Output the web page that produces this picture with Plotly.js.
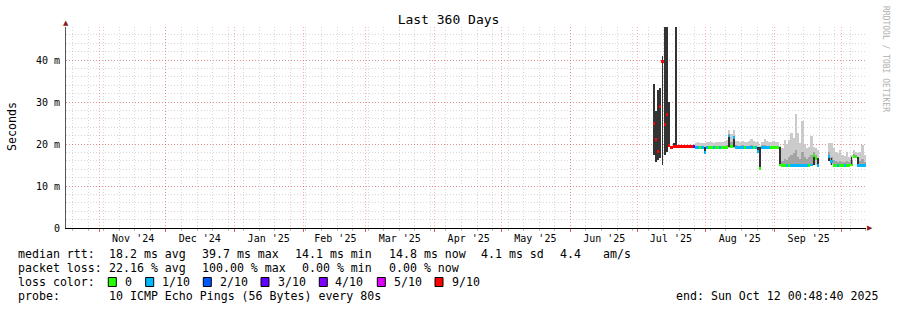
<!DOCTYPE html>
<html><head><meta charset="utf-8">
<script src="https://cdn.plot.ly/plotly-3.0.1.min.js"></script>
<style>html,body{margin:0;padding:0;background:#fff}#chart{width:897px;height:310px}</style>
</head><body><div id="chart"></div>
<script>
// ---- data (one entry per day, values in ms) ----
const dates = [
 '2025-07-08','2025-07-09','2025-07-10','2025-07-11','2025-07-12','2025-07-13','2025-07-14','2025-07-15','2025-07-16','2025-07-17','2025-07-18','2025-07-19','2025-07-20','2025-07-21','2025-07-22','2025-07-23','2025-07-24','2025-07-25','2025-07-26','2025-07-27','2025-07-28','2025-07-29','2025-07-30','2025-07-31',
 '2025-08-01','2025-08-02','2025-08-03','2025-08-04','2025-08-05','2025-08-06','2025-08-07','2025-08-08','2025-08-09','2025-08-10','2025-08-11','2025-08-12','2025-08-13','2025-08-14','2025-08-15','2025-08-16','2025-08-17','2025-08-18','2025-08-19','2025-08-20','2025-08-21','2025-08-22','2025-08-23','2025-08-24','2025-08-25','2025-08-26','2025-08-27','2025-08-28','2025-08-29','2025-08-30','2025-08-31',
 '2025-09-01','2025-09-02','2025-09-03','2025-09-04','2025-09-05','2025-09-06','2025-09-07','2025-09-08','2025-09-09','2025-09-10','2025-09-11','2025-09-12','2025-09-13','2025-09-14','2025-09-15','2025-09-16','2025-09-17','2025-09-18','2025-09-19','2025-09-20','2025-09-21','2025-09-22','2025-09-23','2025-09-24','2025-09-25','2025-09-26','2025-09-27','2025-09-28','2025-09-29','2025-09-30',
 '2025-10-01','2025-10-02','2025-10-03','2025-10-04','2025-10-05','2025-10-06','2025-10-07','2025-10-08','2025-10-09','2025-10-10','2025-10-11'];

const median = [
 24.8,21.0,18.2,29.0,39.7,24.6,27.0,19.6,19.2,19.3,19.4,19.4,19.3,19.4,19.4,19.4,19.5,19.4,19.3,19.1,19.1,19.1,19.1,18.0,
 19.1,19.1,19.1,19.1,19.1,19.1,19.1,19.1,19.1,19.2,21.9,19.3,21.5,19.2,19.1,19.1,19.1,19.1,19.1,19.1,19.1,19.1,19.1,18.3,14.1,19.2,19.2,19.2,19.2,19.2,19.2,
 19.2,19.2,15.0,14.9,14.9,14.9,14.9,14.9,14.9,14.9,14.9,14.9,14.9,14.9,14.9,14.9,15.0,17.2,16.6,14.9,null,null,null,null,17.0,15.8,14.9,14.9,14.9,14.9,
 14.9,14.9,14.9,14.9,15.0,17.0,16.9,14.9,14.8,14.8,14.8];

const lossCount = [
 9,9,9,9,9,9,9,9,9,9,9,9,9,9,9,9,9,9,3,1,1,0,1,1,
 1,0,0,1,0,0,1,0,0,0,1,0,1,1,1,1,1,0,1,1,1,0,1,1,0,1,1,1,1,0,0,
 0,0,0,0,0,1,0,1,1,1,1,1,1,1,1,0,1,0,0,1,null,null,null,null,1,1,0,0,1,0,
 0,1,0,0,0,0,0,1,1,1,1];

// light smoke: full ping range
const smokeLo = [
 null,null,null,null,null,null,null,null,null,null,null,null,null,null,null,null,null,null,null,18.9,18.9,18.9,18.9,17.8,
 18.9,18.9,18.9,18.9,18.9,18.9,18.9,18.9,18.9,18.9,19.0,19.0,19.0,19.0,18.9,18.9,18.9,18.9,18.9,18.9,18.9,18.9,18.9,18.0,13.9,19.0,19.0,19.0,19.0,19.0,19.0,
 19.0,19.0,14.8,14.7,14.7,14.7,14.7,14.7,14.7,14.7,14.7,14.7,14.7,14.7,14.7,14.7,14.8,15.0,15.0,14.7,null,null,null,null,15.9,15.0,14.7,14.7,14.7,14.7,
 14.7,14.7,14.7,14.7,14.8,16.8,16.7,14.7,14.6,14.6,14.6];
const smokeHi = [
 null,null,null,null,null,null,null,null,null,null,null,null,null,null,null,null,null,null,null,20.3,20.4,20.2,20.3,20.3,
 20.5,20.4,20.4,20.3,20.4,20.5,20.4,20.5,20.6,21.0,23.4,22.5,23.4,20.8,20.6,20.5,20.8,20.4,20.5,20.6,21.2,20.6,20.5,20.5,19.5,20.5,21.3,20.6,20.5,20.5,20.6,
 20.5,20.4,19.5,19.0,21.0,20.0,21.0,22.7,21.5,27.1,22.6,20.3,25.4,20.0,19.0,19.4,21.8,19.4,19.0,18.5,null,null,null,null,20.2,20.2,19.0,18.0,17.8,18.6,
 17.5,17.2,18.0,17.0,17.5,18.5,18.2,17.8,18.0,19.8,17.5];
// denser smoke: from the median up to innerHi
const innerHi = [
 null,null,null,null,null,null,null,null,null,null,null,null,null,null,null,null,null,null,null,19.6,19.6,19.5,19.5,19.3,
 19.6,19.5,19.5,19.6,19.5,19.6,19.5,19.6,19.6,19.8,22.3,20.5,22.0,19.8,19.6,19.6,19.7,19.5,19.6,19.6,19.8,19.6,19.6,19.3,19.3,19.7,19.8,19.6,19.6,19.6,19.6,
 19.6,19.6,19.3,16.0,16.5,16.2,17.0,17.5,17.8,18.5,17.0,16.5,18.0,16.8,16.5,17.0,17.5,18.0,17.5,16.0,null,null,null,null,18.0,17.0,16.2,16.0,15.8,16.0,
 15.8,15.8,16.0,15.7,16.2,17.6,17.5,16.0,16.0,16.5,15.8];
// dark smoke (few pings answered) and median jumps
const darkLo = [
 17.4,15.6,16.2,16.7,15.1,17.4,18.2,19.4,null,19.0,19.2,null,null,null,null,null,null,null,null,null,null,null,null,17.9,
 null,null,null,null,null,null,null,null,null,null,19.2,null,19.2,null,null,null,null,null,null,null,null,null,null,18.0,14.1,null,null,null,null,null,null,
 null,null,15.0,null,null,null,null,null,null,null,null,null,null,null,null,null,null,15.0,null,14.9,null,null,null,null,15.9,15.0,null,null,null,null,
 null,null,null,null,15.0,null,null,14.9,null,null,null];
const darkHi = [
 34.3,27.9,32.9,33.4,40.9,60,60,30.1,null,20.3,60,null,null,null,null,null,null,null,null,null,null,null,null,19.3,
 null,null,null,null,null,null,null,null,null,null,21.9,null,21.5,null,null,null,null,null,null,null,null,null,null,19.3,19.3,null,null,null,null,null,null,
 null,null,19.3,null,null,null,null,null,null,null,null,null,null,null,null,null,null,17.2,null,16.6,null,null,null,null,17.4,16.6,null,null,null,null,
 null,null,null,null,17.0,null,null,16.9,null,null,null];

const lossLevels = [0,1,2,3,4,5,9];
const lossLabels = ['0','1/10','2/10','3/10','4/10','5/10','9/10'];
const lossColors = ['#26ff00','#00b8ff','#0059ff','#5e00ff','#7e00ff','#dd00ff','#ff0000'];

const monthStarts = ['2024-11-01','2024-12-01','2025-01-01','2025-02-01','2025-03-01','2025-04-01','2025-05-01','2025-06-01','2025-07-01','2025-08-01','2025-09-01','2025-10-01'];
const monthLabelAt = ['2024-11-16 06:00','2024-12-16 06:00','2025-01-16 06:00','2025-02-15 06:00','2025-03-16 06:00','2025-04-16 06:00','2025-05-16 06:00','2025-06-16 06:00','2025-07-16 06:00','2025-08-16 06:00','2025-09-16 06:00'];
const monthLabels = ["Nov '24","Dec '24","Jan '25","Feb '25","Mar '25","Apr '25","May '25","Jun '25","Jul '25","Aug '25","Sep '25"];
const yTickVals = [0,10,20,30,40];
const yTickText = ['0','10 m','20 m','30 m','40 m'];

const rttLine = ['median rtt:','18.2 ms avg','39.7 ms max','14.1 ms min','14.8 ms now','4.1 ms sd','4.4','am/s'];
const lossLine = ['packet loss:','22.16 % avg','100.00 % max','0.00 % min','0.00 % now'];
const probeLine = ['probe:','10 ICMP Echo Pings (56 Bytes) every 80s'];
const endText = 'end: Sun Oct 12 00:48:40 2025';
const rangeStart = '2024-10-17 00:48:40', rangeEnd = '2025-10-12 00:48:40';

// ---- drawing ----
const DAY = 86400000;
const xc = dates.map(d => d + ' 12:00');
function band(lo, hi, color, w){
  return {type:'bar', x:xc, base:lo, y:lo.map((v,i)=> (v==null||hi[i]==null)? null : hi[i]-v),
    width:w, marker:{color:color, line:{width:0}}, hoverinfo:'skip', xaxis:'x', yaxis:'y'};
}
const traces = [
  band(smokeLo, smokeHi, '#cbcbcb', DAY),
  band(median, innerHi, '#a3a3a3', DAY),
  band(darkLo, darkHi, '#333333', 0.8*DAY),
  {type:'bar', x:xc, base:median.map(v=> v==null?null:v-0.35), y:median.map(v=> v==null?null:0.7),
   width:DAY, marker:{color:lossCount.map(l=> l==null? 'rgba(0,0,0,0)' : lossColors[lossLevels.indexOf(l)]), line:{width:0}},
   hoverinfo:'skip'},
  {type:'scatter', x:[], y:[], xaxis:'x2', yaxis:'y', hoverinfo:'skip'}
];

const L=66, W=800, H=201;
const px = x => (x-L)/W, py = y => (228-y)/H;
const FONT = 'DejaVu Sans Mono';
const ann = [];
function txt(x,y,s,opt){ ann.push(Object.assign({xref:'paper',yref:'paper',x:px(x),y:py(y),text:s,showarrow:false,xanchor:'left',yanchor:'middle',font:{family:FONT,size:11.6,color:'#000'}},opt||{})); }
const rttX = [16,107.3,200,293.3,386.7,479.3,558.3,600.7];
rttLine.forEach((s,i)=>txt(rttX[i],254.3,s));
const lossX = [16,107.3,200,300,386.7];
lossLine.forEach((s,i)=>txt(lossX[i],268.3,s));
txt(16,282.3,'loss color:');
const boxX = [108.3,145.7,203.3,261,319.3,377.3,435];
const labX = [123.3,160,218.3,276,333.3,391.7,450];
const shapes = [];
lossLabels.forEach((s,i)=>{
  txt(labX[i],282.3,s);
  shapes.push({type:'rect',xref:'paper',yref:'paper',x0:px(boxX[i]),x1:px(boxX[i]+8),y0:py(286.5),y1:py(277.5),fillcolor:lossColors[i],line:{color:'#000',width:1}});
});
txt(16,296,probeLine[0]); txt(107.3,296,probeLine[1]);
txt(880,296,endText,{xanchor:'right'});
txt(12,127,'Seconds',{textangle:-90,xanchor:'center'});
txt(886,59,'RRDTOOL / TOBI OETIKER',{textangle:90,xanchor:'center',font:{family:FONT,size:8,color:'#b0b0b0'}});
txt(66,23.5,'▲',{xanchor:'center',font:{family:'DejaVu Sans',size:7,color:'#8b1c1c'}});
txt(870,228,'▶',{xanchor:'center',font:{family:'DejaVu Sans',size:7,color:'#8b1c1c'}});

const majorGrid = 'rgba(255,0,0,0.32)', minorGrid = 'rgba(150,150,150,0.38)', dash = '1px,2px';
const layout = {
  width:897, height:310, margin:{l:66,r:31,t:27,b:82}, paper_bgcolor:'#fff', plot_bgcolor:'#fff',
  barmode:'overlay', bargap:0, showlegend:false, hovermode:false,
  font:{family:FONT,size:10,color:'#000'},
  title:{text:'Last 360 Days', font:{family:FONT,size:13,color:'#000'}, x:0.5, xref:'container', xanchor:'center', y:1-19/310, yref:'container', yanchor:'middle'},
  xaxis:{type:'date', range:[rangeStart,rangeEnd], tickmode:'array', tickvals:monthStarts, showticklabels:false,
    ticks:'outside', ticklen:3, tickcolor:'#e06060', showgrid:true, gridcolor:majorGrid, griddash:dash, gridwidth:1,
    showline:true, linecolor:'#000', linewidth:1, zeroline:false, fixedrange:true,
    minor:{tick0:'2024-11-03', dtick:7*DAY, showgrid:true, gridcolor:minorGrid, griddash:dash, ticks:'outside', ticklen:2, tickcolor:'#bbb'}},
  xaxis2:{type:'date', overlaying:'x', anchor:'y', side:'bottom', range:[rangeStart,rangeEnd], tickmode:'array',
    tickvals:monthLabelAt, ticktext:monthLabels, showgrid:false, ticks:'', showline:false, zeroline:false,
    tickfont:{family:FONT,size:10,color:'#000'}, ticklabelstandoff:3, fixedrange:true},
  yaxis:{range:[0,201/4.2], tickmode:'array', tickvals:yTickVals, ticktext:yTickText, showgrid:true, gridcolor:majorGrid, griddash:dash,
    zeroline:false, showline:true, linecolor:'#555', linewidth:1, ticks:'outside', ticklen:3, tickcolor:'rgba(0,0,0,0)',
    tickfont:{family:FONT,size:10,color:'#000'}, fixedrange:true,
    minor:{dtick:2, showgrid:true, gridcolor:minorGrid, griddash:dash}},
  annotations:ann, shapes:shapes
};
Plotly.newPlot('chart', traces, layout, {staticPlot:true, displayModeBar:false});
</script></body></html>
